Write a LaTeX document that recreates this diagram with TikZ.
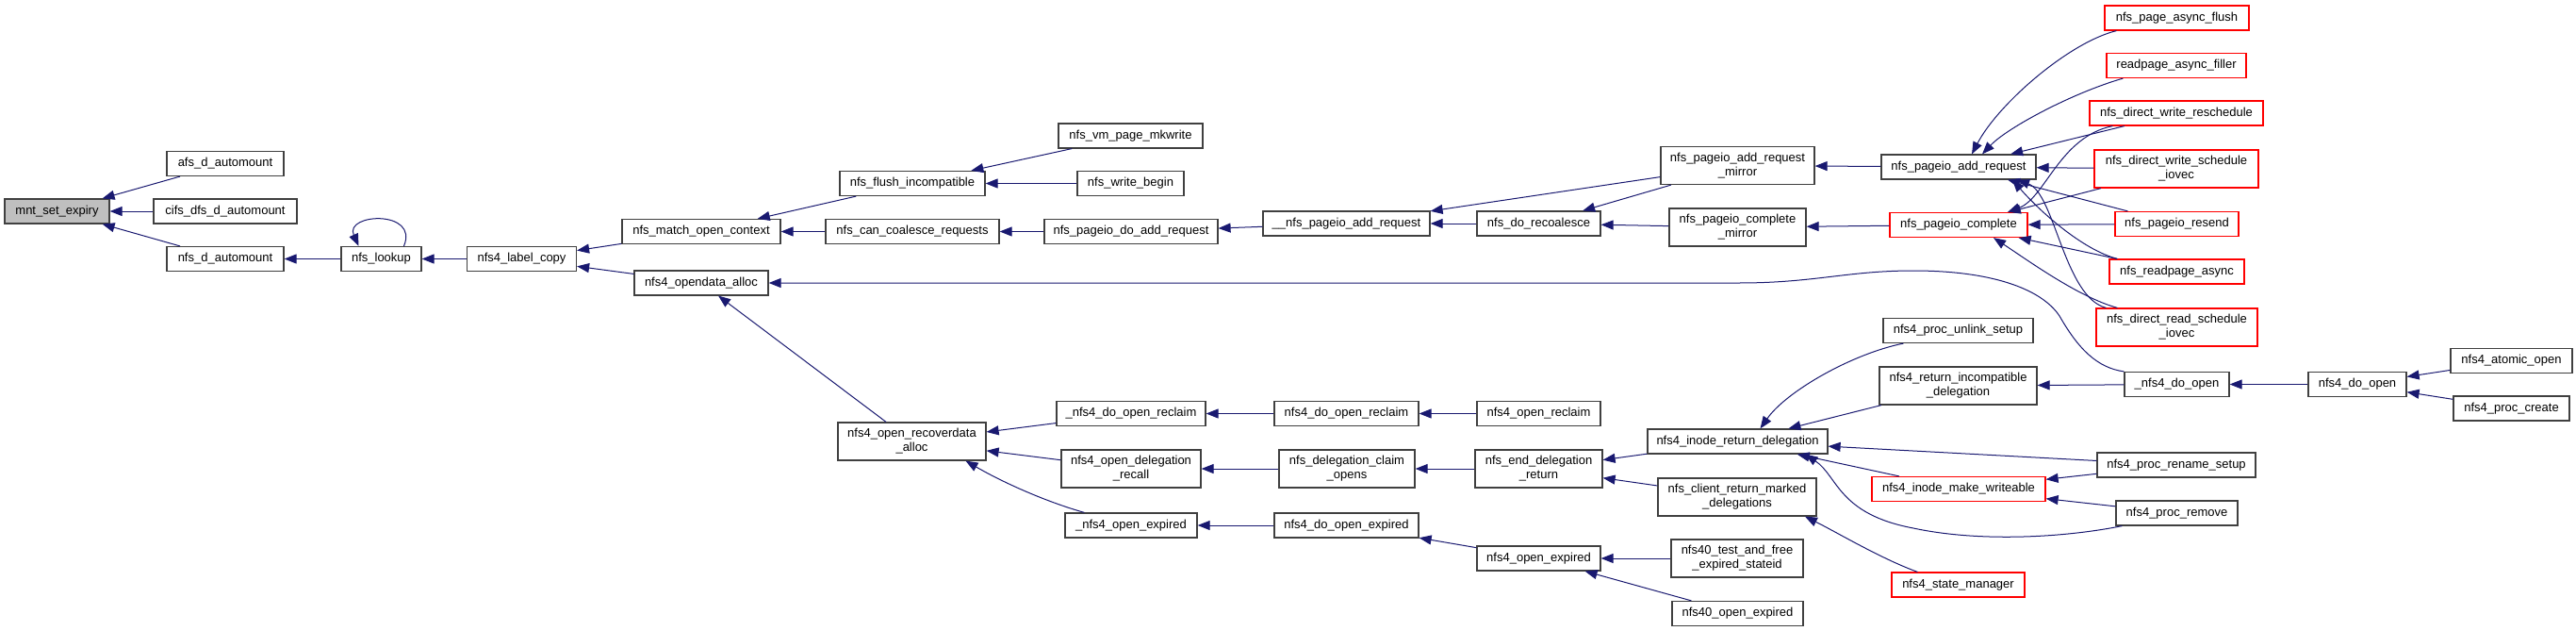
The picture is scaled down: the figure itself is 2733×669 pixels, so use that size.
\documentclass[tikz,border=0pt]{standalone}
\usepackage{fontspec}
\setmainfont{Liberation Sans}
\usetikzlibrary{arrows.meta}
\definecolor{edgec}{HTML}{191970}
\definecolor{boxc}{HTML}{404040}
\definecolor{grayfill}{HTML}{BFBFBF}
\definecolor{redc}{HTML}{FF0000}
\begin{document}
\begin{tikzpicture}[x=1pt,y=-1pt,
  nb/.style={draw=boxc, line width=1.2pt, fill=white, inner sep=0pt, minimum height=26pt,
    font=\fontsize{13}{15}\selectfont, align=center, text=black},
  two/.style={minimum height=40pt},
  trunc/.style={draw=redc},
  e/.style={draw=edgec, line width=1pt, {Triangle[length=13pt,width=10pt]}-}]
\useasboundingbox (0,0) rectangle (2733,669);

% rank 0-3
\node[nb, fill=grayfill, minimum width=111pt] (mnt) at (60.5,224) {mnt\_set\_expiry};
\node[nb, minimum width=124pt] (afs) at (239,173.5) {afs\_d\_automount};
\node[nb, minimum width=152pt] (cifs) at (239,224) {cifs\_dfs\_d\_automount};
\node[nb, minimum width=124pt] (nfsd) at (239,274.5) {nfs\_d\_automount};
\node[nb, minimum width=85pt] (lookup) at (404.5,274.5) {nfs\_lookup};
\node[nb, minimum width=116pt] (label) at (553.5,274.5) {nfs4\_label\_copy};
% rank 4
\node[nb, minimum width=168pt] (match) at (744,245.5) {nfs\_match\_open\_context};
\node[nb, minimum width=142pt] (opendata) at (744,300) {nfs4\_opendata\_alloc};
% rank 5
\node[nb, minimum width=154pt] (flush) at (968,194.5) {nfs\_flush\_incompatible};
\node[nb, minimum width=184pt] (coalesce) at (968,245.5) {nfs\_can\_coalesce\_requests};
\node[nb, two, minimum width=157pt] (recover) at (967.5,468) {nfs4\_open\_recoverdata\\\_alloc};
% rank 6
\node[nb, minimum width=153pt] (mkwrite) at (1199.5,144) {nfs\_vm\_page\_mkwrite};
\node[nb, minimum width=113pt] (wbegin) at (1199.5,194.5) {nfs\_write\_begin};
\node[nb, minimum width=184pt] (doadd) at (1200,245.5) {nfs\_pageio\_do\_add\_request};
\node[nb, minimum width=158pt] (udoreclaim) at (1200,438.5) {\_nfs4\_do\_open\_reclaim};
\node[nb, two, minimum width=148pt] (delrecall) at (1200,497) {nfs4\_open\_delegation\\\_recall};
\node[nb, minimum width=140pt] (uopenexp) at (1200,557) {\_nfs4\_open\_expired};
% rank 7
\node[nb, minimum width=177pt] (uuadd) at (1428.5,237) {\_\_nfs\_pageio\_add\_request};
\node[nb, minimum width=153pt] (doreclaim) at (1428.5,438.5) {nfs4\_do\_open\_reclaim};
\node[nb, two, minimum width=144pt] (claimopens) at (1429,497) {nfs\_delegation\_claim\\\_opens};
\node[nb, minimum width=153pt] (doopenexp) at (1428.5,557) {nfs4\_do\_open\_expired};
% rank 8
\node[nb, minimum width=131pt] (recoalesce) at (1632.5,237) {nfs\_do\_recoalesce};
\node[nb, minimum width=131pt] (openreclaim) at (1632.5,438.5) {nfs4\_open\_reclaim};
\node[nb, two, minimum width=135pt] (enddeleg) at (1632.5,497) {nfs\_end\_delegation\\\_return};
\node[nb, minimum width=131pt] (openexp) at (1632.5,592) {nfs4\_open\_expired};
% rank 9
\node[nb, two, minimum width=163pt] (addmirror) at (1843.5,175.5) {nfs\_pageio\_add\_request\\\_mirror};
\node[nb, two, minimum width=145pt] (compmirror) at (1843.5,241) {nfs\_pageio\_complete\\\_mirror};
\node[nb, minimum width=191pt] (inoderet) at (1843.5,468) {nfs4\_inode\_return\_delegation};
\node[nb, two, minimum width=168pt] (clientret) at (1843,527) {nfs\_client\_return\_marked\\\_delegations};
\node[nb, two, minimum width=140pt] (testfree) at (1843,592) {nfs40\_test\_and\_free\\\_expired\_stateid};
\node[nb, minimum width=139pt] (o40exp) at (1843.5,650.5) {nfs40\_open\_expired};
% rank 10
\node[nb, minimum width=164pt] (pageioadd) at (2078,177) {nfs\_pageio\_add\_request};
\node[nb, trunc, minimum width=146pt] (complete) at (2078,238.5) {nfs\_pageio\_complete};
\node[nb, minimum width=159pt] (unlink) at (2077.5,350.5) {nfs4\_proc\_unlink\_setup};
\node[nb, two, minimum width=167pt] (retincompat) at (2077.5,409) {nfs4\_return\_incompatible\\\_delegation};
\node[nb, trunc, minimum width=184pt] (mkwriteable) at (2078,518.5) {nfs4\_inode\_make\_writeable};
\node[nb, trunc, minimum width=141pt] (statemgr) at (2077.5,620) {nfs4\_state\_manager};
% rank 11
\node[nb, trunc, minimum width=153pt] (asyncflush) at (2309.5,19) {nfs\_page\_async\_flush};
\node[nb, trunc, minimum width=148pt] (filler) at (2309,69.5) {readpage\_async\_filler};
\node[nb, trunc, minimum width=184pt] (dwresched) at (2309,120) {nfs\_direct\_write\_reschedule};
\node[nb, trunc, two, minimum width=174pt] (dwsched) at (2309,179) {nfs\_direct\_write\_schedule\\\_iovec};
\node[nb, trunc, minimum width=131pt] (resend) at (2309.5,237.5) {nfs\_pageio\_resend};
\node[nb, trunc, minimum width=143pt] (rpasync) at (2309.5,288) {nfs\_readpage\_async};
\node[nb, trunc, two, minimum width=171pt] (drsched) at (2309.5,347) {nfs\_direct\_read\_schedule\\\_iovec};
\node[nb, minimum width=111pt] (udoopen) at (2309.5,407.5) {\_nfs4\_do\_open};
\node[nb, minimum width=168pt] (rename) at (2309,493) {nfs4\_proc\_rename\_setup};
\node[nb, minimum width=129pt] (procremove) at (2309.5,544) {nfs4\_proc\_remove};
% rank 12-13
\node[nb, minimum width=104pt] (doopen) at (2501,407.5) {nfs4\_do\_open};
\node[nb, minimum width=129pt] (atomic) at (2664.5,382.5) {nfs4\_atomic\_open};
\node[nb, minimum width=123pt] (create) at (2664.5,433) {nfs4\_proc\_create};

% edges (arrowhead at callee)
\draw[e] (mnt) -- (afs);
\draw[e] (mnt) -- (cifs);
\draw[e] (mnt) -- (nfsd);
\draw[e] (nfsd) -- (lookup);
\draw[e] ([xshift=-24pt]lookup.north) .. controls (365,226) and (445,222) .. ([xshift=24pt]lookup.north);
\draw[e] (lookup) -- (label);
\draw[e] (label) -- (match);
\draw[e] (label) -- (opendata);
\draw[e] (match) -- (flush);
\draw[e] (match) -- (coalesce);
\draw[e] (flush) -- (mkwrite);
\draw[e] (flush) -- (wbegin);
\draw[e] (coalesce) -- (doadd);
\draw[e] (doadd) -- (uuadd);
\draw[e] (uuadd) -- (addmirror);
\draw[e] (uuadd) -- (recoalesce);
\draw[e] (recoalesce) -- (addmirror);
\draw[e] (recoalesce) -- (compmirror);
\draw[e] (addmirror) -- (pageioadd);
\draw[e] (compmirror) -- (complete);
% into nfs_pageio_add_request
\draw[e] ([xshift=14pt]pageioadd.north) .. controls (2120,110) and (2195,45) .. ([xshift=13pt]asyncflush.south west);
\draw[e] ([xshift=25pt]pageioadd.north) .. controls (2130,135) and (2200,98) .. ([xshift=18pt]filler.south west);
\draw[e] (pageioadd) -- (dwresched);
\draw[e] (pageioadd) -- (dwsched);
\draw[e] (pageioadd) -- (resend);
\draw[e] ([xshift=57pt]pageioadd.south) .. controls (2165,225) and (2210,265) .. ([xshift=9pt]rpasync.north west);
\draw[e] ([xshift=62pt]pageioadd.south) .. controls (2180,205) and (2190,315) .. ([xshift=11pt]drsched.north west);
% into nfs_pageio_complete
\draw[e] ([xshift=52pt]complete.north) .. controls (2170,210) and (2185,145) .. ([xshift=25pt]dwresched.south west);
\draw[e] (complete) -- (dwsched);
\draw[e] (complete) -- (resend);
\draw[e] (complete) -- (rpasync);
\draw[e] ([xshift=37pt]complete.south) .. controls (2150,275) and (2205,315) .. ([xshift=23pt]drsched.north west);
% long edge
\coordinate (lk1) at (1845,300);
\draw[e] (opendata.east) -- (lk1) .. controls (1925,300) and (1960,287) .. (2030,287)
  .. controls (2110,287) and (2165,305) .. (2185,335)
  .. controls (2205,370) and (2225,390) .. (udoopen.north west);
% lower part
\draw[e] (opendata) -- (recover);
\draw[e] (recover) -- (udoreclaim);
\draw[e] (recover) -- (delrecall);
\draw[e] ([xshift=57pt]recover.south) .. controls (1065,512) and (1110,532) .. ([xshift=21pt]uopenexp.north west);
\draw[e] (udoreclaim) -- (doreclaim);
\draw[e] (doreclaim) -- (openreclaim);
\draw[e] (delrecall) -- (claimopens);
\draw[e] (claimopens) -- (enddeleg);
\draw[e] (enddeleg) -- (inoderet);
\draw[e] (enddeleg) -- (clientret);
\draw[e] (uopenexp) -- (doopenexp);
\draw[e] (doopenexp) -- (openexp);
\draw[e] (openexp) -- (testfree);
\draw[e] (openexp) -- (o40exp);
% into nfs4_inode_return_delegation
\draw[e] ([xshift=24pt]inoderet.north) .. controls (1895,415) and (1965,375) .. ([xshift=22pt]unlink.south west);
\draw[e] (inoderet) -- (retincompat);
\draw[e] (inoderet) -- (rename);
\draw[e] (inoderet) -- (mkwriteable);
\draw[e] ([xshift=72pt]inoderet.south) .. controls (1950,505) and (1950,545) .. (2030,560)
  .. controls (2100,575) and (2190,570) .. ([xshift=7pt]procremove.south west);
\draw[e] ([xshift=72pt]clientret.south) .. controls (1950,565) and (1995,592) .. ([xshift=28pt]statemgr.north west);
\draw[e] (retincompat) -- (udoopen);
\draw[e] (udoopen) -- (doopen);
\draw[e] (doopen) -- (atomic);
\draw[e] (doopen) -- (create);
\draw[e] (mkwriteable) -- (rename);
\draw[e] (mkwriteable) -- (procremove);
\end{tikzpicture}
\end{document}
